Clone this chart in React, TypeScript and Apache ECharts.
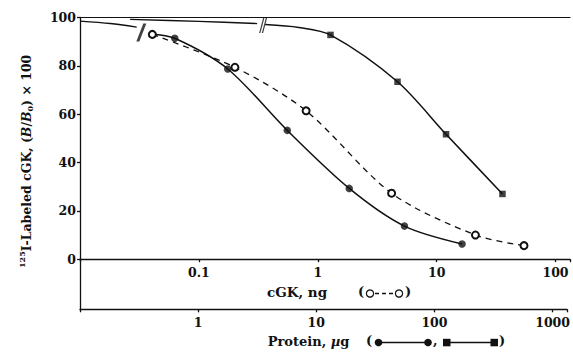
import React, { useEffect, useRef } from 'react';
import * as echarts from 'echarts';

// ---- tick labels ----
const yTicks = [0, 20, 40, 60, 80, 100];
const cgkTickLabels = ['0.1', '1', '10', '100'];
const proteinTickLabels = ['1', '10', '100', '1000'];

// ---- filled circles: protein (µg) vs (B/B0) x 100 ----
const filledProtein = [0.627, 1.75, 5.54, 18.4, 53.6, 163.7];
const filledValue = [91.4, 78.7, 53.3, 29.3, 13.7, 6.3];

// ---- open circles: cGK (ng) vs (B/B0) x 100 ----
const openCgk = [0.0406, 0.201, 0.798, 4.18, 21.2, 54.3];
const openValue = [93.0, 79.4, 61.4, 27.3, 10.0, 5.6];

// ---- filled squares: protein (µg) vs (B/B0) x 100 ----
const squareProtein = [12.8, 46.9, 120, 358];
const squareValue = [92.8, 73.4, 51.7, 27.0];

// ---- curve pieces ----
const filledExtProtein = [0.1, 0.18, 0.3];
const filledExtValue = [98.5, 97.5, 96.0];
const filledLeadProtein = [0.39];
const filledLeadValue = [93.2];
const squareExtProtein = [0.264, 1.0, 3.09];
const squareExtValue = [99.2, 98.4, 97.5];
const squareLeadProtein = [3.61, 6.93];
const squareLeadValue = [97.1, 95.9];

// ---- axis-break marks ----
const breakSingleProtein = [0.328];
const breakSingleValue = [93.8];
const breakDoubleProtein = [3.47];
const breakDoubleValue = [96.7];

const FONT = 'DejaVu Serif';
const INK = '#111';

const zip = (xs: number[], ys: number[]) => xs.map((x, i) => [x, ys[i]]);

const fmt = (labels: string[]) => (v: number) => {
  const s = String(Number(Number(v).toPrecision(2)));
  return labels.includes(s) ? s : '';
};

export default function App() {
  const ref = useRef<HTMLDivElement>(null);
  useEffect(() => {
    if (!ref.current) return;
    const chart = echarts.init(ref.current, undefined, { renderer: 'svg' });
    const labelStyle = { fontFamily: FONT, fontWeight: 'bold' as const, fontSize: 12.5, color: INK };
    const axisLine = { show: true, lineStyle: { color: INK, width: 1.3 } };
    const curve = { type: 'line' as const, xAxisIndex: 1, yAxisIndex: 0, smooth: 0.3, showSymbol: false };

    chart.setOption({
      animation: false,
      backgroundColor: '#fff',
      grid: [
        { left: 80, top: 17.5, right: 0, height: 241.7 },
        { left: 80, top: 259.2, right: 0, height: 50.1 },
      ],
      xAxis: [
        {
          gridIndex: 0, type: 'log', min: 0.01, max: 132.4, position: 'bottom',
          axisLine, axisTick: { show: true, length: 3, lineStyle: { color: INK, width: 1.3 } },
          axisLabel: { ...labelStyle, margin: 7, formatter: fmt(cgkTickLabels) },
          splitLine: { show: false }, minorTick: { show: false },
          name: 'cGK, ng', nameLocation: 'middle', nameGap: 26,
          nameTextStyle: { fontFamily: FONT, fontWeight: 'bold', fontSize: 13.5, color: INK, padding: [0, 56, 0, 0] },
        },
        {
          gridIndex: 0, type: 'log', min: 0.1, max: 1324, position: 'top',
          axisLine: { show: true, lineStyle: { color: INK, width: 1.2 } },
          axisTick: { show: false }, axisLabel: { show: false }, splitLine: { show: false },
        },
        {
          gridIndex: 1, type: 'log', min: 0.1, max: 1324, position: 'bottom',
          axisLine: { ...axisLine, onZero: false },
          axisTick: { show: true, length: 3, lineStyle: { color: INK, width: 1.3 } },
          axisLabel: { ...labelStyle, margin: 7, formatter: fmt(proteinTickLabels) },
          splitLine: { show: false },
          name: '{b|Protein, }{i|µ}{b|g}', nameLocation: 'middle', nameGap: 26,
          nameTextStyle: {
            padding: [0, 30, 0, 0],
            rich: {
              b: { fontFamily: FONT, fontWeight: 'bold', fontSize: 13, color: INK },
              i: { fontFamily: FONT, fontWeight: 'bold', fontStyle: 'italic', fontSize: 13, color: INK },
            },
          },
        },
      ],
      yAxis: [
        {
          gridIndex: 0, type: 'value', min: yTicks[0], max: yTicks[yTicks.length - 1], interval: 20,
          axisLine, axisTick: { show: true, length: 3, lineStyle: { color: INK, width: 1.3 } },
          axisLabel: { ...labelStyle, margin: 4 },
          splitLine: { show: false },
          name: '{sup|125}{b|I-Labeled cGK, (}{i|B}{b|/}{i|B}{sub|0}{b|) × 100}',
          nameLocation: 'middle', nameGap: 46,
          nameTextStyle: {
            padding: [0, 46, 0, 0],
            rich: {
              b: { fontFamily: FONT, fontWeight: 'bold', fontSize: 12.5, color: INK, lineHeight: 16 },
              i: { fontFamily: FONT, fontWeight: 'bold', fontStyle: 'italic', fontSize: 12.5, color: INK, lineHeight: 16 },
              sup: { fontFamily: FONT, fontWeight: 'bold', fontSize: 8, color: INK, verticalAlign: 'top', lineHeight: 12 },
              sub: { fontFamily: FONT, fontWeight: 'bold', fontSize: 8, color: INK, verticalAlign: 'bottom', lineHeight: 10 },
            },
          },
        },
        {
          gridIndex: 1, type: 'value', min: 0, max: 1,
          axisLine: { ...axisLine, onZero: false }, axisTick: { show: false }, axisLabel: { show: false },
          splitLine: { show: false },
        },
      ],
      series: [
        { ...curve, data: zip(filledExtProtein, filledExtValue), lineStyle: { color: INK, width: 1.4 } },
        {
          ...curve,
          data: zip([...filledLeadProtein, ...filledProtein], [...filledLeadValue, ...filledValue]),
          lineStyle: { color: INK, width: 1.5 },
        },
        {
          type: 'scatter', xAxisIndex: 1, yAxisIndex: 0, symbol: 'circle', symbolSize: 7.5,
          data: zip(filledProtein, filledValue), itemStyle: { color: INK },
        },
        { ...curve, data: zip(squareExtProtein, squareExtValue), lineStyle: { color: INK, width: 1.3 } },
        {
          ...curve,
          data: zip([...squareLeadProtein, ...squareProtein], [...squareLeadValue, ...squareValue]),
          lineStyle: { color: INK, width: 1.5 },
        },
        {
          type: 'scatter', xAxisIndex: 1, yAxisIndex: 0, symbol: 'rect', symbolSize: 6.5,
          data: zip(squareProtein, squareValue), itemStyle: { color: INK },
        },
        {
          type: 'line', xAxisIndex: 0, yAxisIndex: 0, smooth: 0.3,
          symbol: 'emptyCircle', symbolSize: 7, showSymbol: true,
          data: zip(openCgk, openValue),
          lineStyle: { color: INK, width: 1.3, type: [6, 5] },
          itemStyle: { color: INK, borderWidth: 1.3, borderColor: INK },
        },
        {
          type: 'scatter', xAxisIndex: 1, yAxisIndex: 0,
          symbol: 'path://M7,0 L10,0 L3,18 L0,18 Z', symbolSize: [10, 18],
          data: zip(breakSingleProtein, breakSingleValue), itemStyle: { color: INK },
        },
        {
          type: 'scatter', xAxisIndex: 1, yAxisIndex: 0,
          symbol: 'path://M5,0 L6.6,0 L1.6,15 L0,15 Z M8.4,0 L10,0 L5,15 L3.4,15 Z', symbolSize: [8, 15],
          data: zip(breakDoubleProtein, breakDoubleValue), itemStyle: { color: INK },
        },
      ],
      graphic: [
        // legend for open circles: ( o - - - o )
        { type: 'text', left: 358, top: 285, style: { text: '(', font: `bold 13px "${FONT}"`, fill: INK } },
        { type: 'circle', shape: { cx: 370, cy: 293.5, r: 3.6 }, style: { fill: '#fff', stroke: INK, lineWidth: 1.2 } },
        { type: 'line', shape: { x1: 375, y1: 293.5, x2: 394, y2: 293.5 }, style: { stroke: INK, lineWidth: 1.3, lineDash: [4, 3] } },
        { type: 'circle', shape: { cx: 399, cy: 293.5, r: 3.6 }, style: { fill: '#fff', stroke: INK, lineWidth: 1.2 } },
        { type: 'text', left: 405, top: 285, style: { text: ')', font: `bold 13px "${FONT}"`, fill: INK } },
        // legend for protein: ( ●——●, ■——■ )
        { type: 'text', left: 366, top: 334, style: { text: '(', font: `bold 13px "${FONT}"`, fill: INK } },
        { type: 'line', shape: { x1: 378, y1: 342.5, x2: 428, y2: 342.5 }, style: { stroke: INK, lineWidth: 1.3 } },
        { type: 'circle', shape: { cx: 378.5, cy: 342.5, r: 3.8 }, style: { fill: INK } },
        { type: 'circle', shape: { cx: 428, cy: 342.5, r: 3.8 }, style: { fill: INK } },
        { type: 'text', left: 433, top: 334, style: { text: ',', font: `bold 13px "${FONT}"`, fill: INK } },
        { type: 'line', shape: { x1: 447, y1: 342.5, x2: 494, y2: 342.5 }, style: { stroke: INK, lineWidth: 1.3 } },
        { type: 'rect', shape: { x: 443, y: 338.8, width: 7.5, height: 7.5 }, style: { fill: INK } },
        { type: 'rect', shape: { x: 490.5, y: 338.8, width: 7.5, height: 7.5 }, style: { fill: INK } },
        { type: 'text', left: 499, top: 334, style: { text: ')', font: `bold 13px "${FONT}"`, fill: INK } },
      ],
    });
    return () => chart.dispose();
  }, []);
  return (
    <div
      ref={ref}
      style={{ position: 'fixed', left: 0, top: 0, width: 573, height: 352, background: '#fff' }}
    />
  );
}
